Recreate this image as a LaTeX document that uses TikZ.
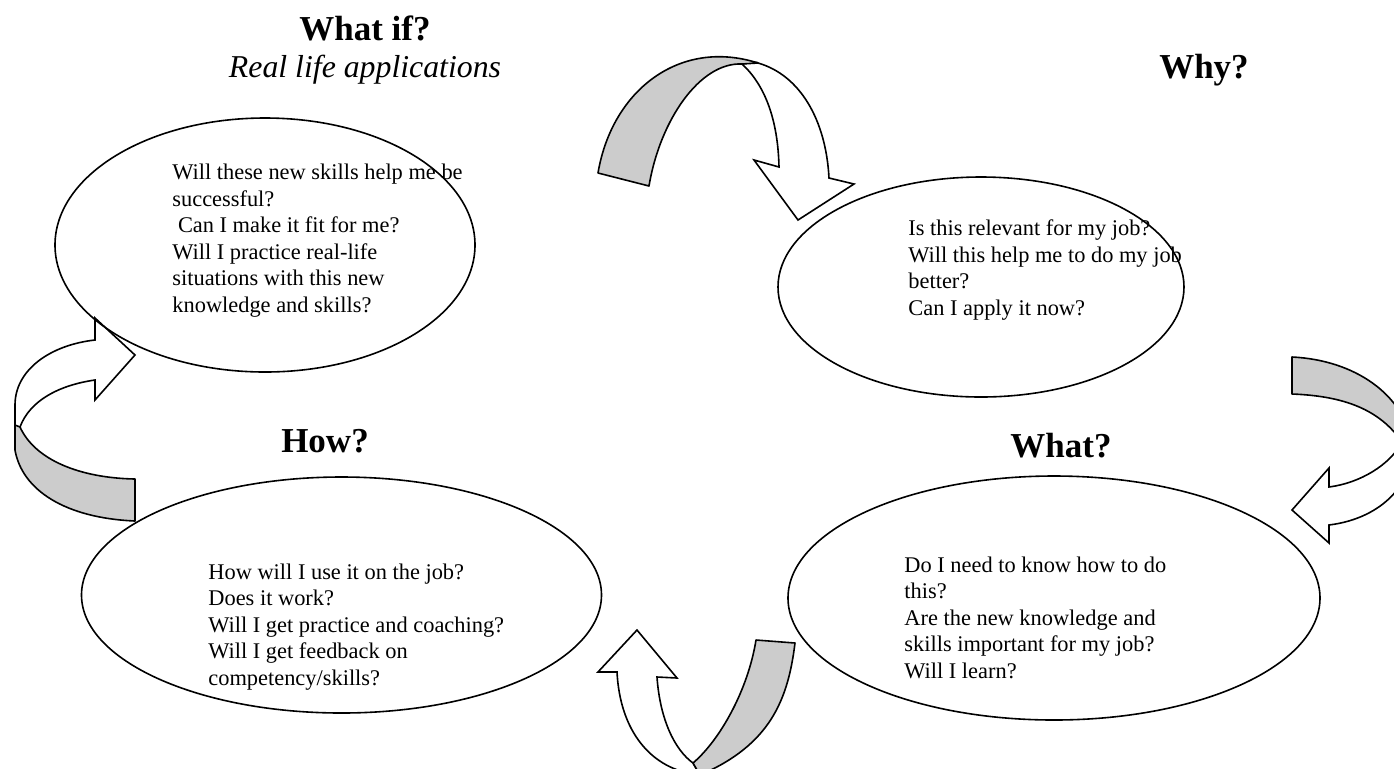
\documentclass[tikz,border=0pt]{standalone}
\usepackage{fontspec}
\setmainfont{Liberation Serif}
\usetikzlibrary{shapes.geometric}

\begin{document}
\begin{tikzpicture}[x=0.5pt,y=-0.5pt]

\tikzset{bubble/.style = {shape=ellipse,draw,line width=0.8pt,inner sep=0pt}}
\tikzset{title/.style = {inner sep=0pt,font=\fontsize{17.5}{20}\selectfont\bfseries}}
\tikzset{subtitle/.style = {inner sep=0pt,font=\fontsize{15.9}{18}\selectfont\itshape}}
\tikzset{question/.style = {align=left,anchor=base west,inner sep=0pt,font=\fontsize{11.2}{13.25}\selectfont}}
\tikzset{band/.style = {draw,line width=0.8pt,fill=gray!40,line join=round}}
\tikzset{head/.style = {draw,line width=0.8pt,fill=white,line join=miter}}

\useasboundingbox (0,0) rectangle (1394,768);

% curved arrows
\draw[head] (742,64) .. controls (752,62) and (758,62) .. (758,63)
  .. controls (800,75) and (826,120) .. (829,178) -- (854,184) -- (798,220)
  -- (754,160) -- (779,167) .. controls (778,120) and (765,85) .. (742,64) -- cycle;
\draw[band] (598,173) .. controls (612,90) and (680,38) .. (758,63)
  -- (742,64) .. controls (700,62) and (660,120) .. (649,186) -- cycle;

\draw[head] (1412,445) .. controls (1414,480) and (1385,518) .. (1329,525)
  -- (1329,543) -- (1292,510) -- (1329,468) -- (1329,487)
  .. controls (1360,483) and (1390,465) .. (1402,442) -- cycle;
\draw[band] (1292,357) .. controls (1355,360) and (1405,395) .. (1412,445)
  -- (1402,442) .. controls (1380,410) and (1345,396) .. (1292,394) -- cycle;

\draw[head] (15,440) -- (15,405) .. controls (15,370) and (50,345) .. (95,340)
  -- (95,318) -- (135,355) -- (95,400) -- (95,380)
  .. controls (60,385) and (30,400) .. (20,427) -- cycle;
\draw[band] (15,425) -- (15,450) .. controls (22,490) and (65,518) .. (135,521)
  -- (135,479) .. controls (80,478) and (35,460) .. (20,427) -- cycle;

\draw[head] (617,672) -- (598,672) -- (637,630) -- (677,678) -- (657,677)
  .. controls (660,720) and (675,750) .. (693,763) -- (700,775)
  .. controls (650,770) and (620,730) .. (617,672) -- cycle;
\draw[band] (756,640) -- (795,643) .. controls (788,700) and (770,745) .. (700,775)
  -- (693,763) .. controls (720,740) and (748,690) .. (756,640) -- cycle;

% bubbles
\node[bubble,minimum width=210pt,minimum height=127pt] (whatifbox) at (265,245) {};
\node[bubble,minimum width=203pt,minimum height=110pt] (whybox) at (981,287) {};
\node[bubble,minimum width=260pt,minimum height=118pt] (howbox) at (341.5,595) {};
\node[bubble,minimum width=266pt,minimum height=122pt] (whatbox) at (1054,598) {};

% titles
\node[title] (whatif) at (365,28) {What if?};
\node[subtitle] (reallife) at (365,70) {Real life applications};
\node[title] (why) at (1204,70) {Why?};
\node[title] (how) at (325,441) {How?};
\node[title] (what) at (1061,446) {What?};

% questions (anchored on the baseline of the last line)
\node[question] (whatifq) at (172,312) {Will these new skills help me be\\successful?\\\hspace{0.25em}Can I make it fit for me?\\Will I practice real-life\\situations with this new\\knowledge and skills?};
\node[question] (whyq) at (908,315) {Is this relevant for my job?\\Will this help me to do my job\\better?\\Can I apply it now?};
\node[question] (howq) at (208,685) {How will I use it on the job?\\Does it work?\\Will I get practice and coaching?\\Will I get feedback on\\competency/skills?};
\node[question] (whatq) at (904,678) {Do I need to know how to do\\this?\\Are the new knowledge and\\skills important for my job?\\Will I learn?};

\end{tikzpicture}
\end{document}
